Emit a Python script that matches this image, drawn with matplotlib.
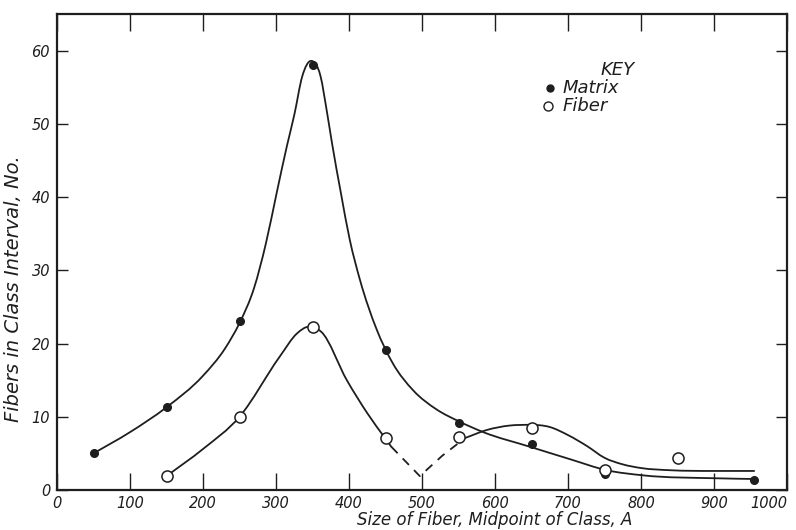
import matplotlib
matplotlib.use("Agg")
import matplotlib.pyplot as plt
from matplotlib.path import Path
from matplotlib.patches import PathPatch

# Measured points
matrix_x = [50, 150, 250, 350, 450, 550, 650, 750, 955]
matrix_y = [5.0, 11.3, 23.1, 58.0, 19.1, 9.1, 6.3, 2.2, 1.4]
fiber_x = [150, 250, 350, 450, 550, 650, 750, 850]
fiber_y = [1.9, 10.0, 22.3, 7.1, 7.2, 8.5, 2.7, 4.4]

# Knots of the hand-drawn fitted curves
matrix_curve_x = [50, 100, 150, 200, 230, 250, 270, 286, 301, 315, 325, 336, 348, 361,
                  370, 377, 389, 401, 415, 438, 460, 488, 520, 550, 584, 648, 703, 753,
                  803, 904, 955]
matrix_curve_y = [5.0, 7.9, 11.3, 15.6, 19.3, 22.8, 27.6, 33.6, 40.6, 47.0, 51.2, 56.5,
                  58.6, 56.5, 51.5, 47.2, 40.5, 34.2, 28.7, 21.9, 17.3, 13.6, 11.0, 9.4,
                  7.9, 5.9, 4.2, 2.7, 2.0, 1.6, 1.5]
fiber_curve1_x = [150, 200, 250, 305, 329, 345, 362, 397, 425, 450, 458]
fiber_curve1_y = [1.9, 5.6, 10.0, 18.2, 21.4, 22.3, 21.6, 15.0, 10.5, 7.0, 5.9]
fiber_dash_x = [458, 497, 528, 559]
fiber_dash_y = [5.9, 1.9, 4.7, 7.1]
fiber_curve2_x = [559, 589, 620, 648, 675, 700, 726, 750, 775, 800, 840, 900, 955]
fiber_curve2_y = [7.1, 8.2, 8.8, 8.9, 8.6, 7.5, 6.0, 4.4, 3.5, 3.0, 2.7, 2.6, 2.6]

x_ticks = [0, 100, 200, 300, 400, 500, 600, 700, 800, 900, 1000]
y_ticks = [0, 10, 20, 30, 40, 50, 60]

ink = "#1e1e1e"
plt.rcParams['font.family'] = ['DejaVu Sans']


def smooth_path(xs, ys):
    """Shape-preserving cubic Bezier path through the knots (drawn by matplotlib)."""
    n = len(xs)
    h = [xs[k + 1] - xs[k] for k in range(n - 1)]
    d = [(ys[k + 1] - ys[k]) / h[k] for k in range(n - 1)]
    m = [d[0]] + [0.0] * (n - 2) + [d[-1]]
    for k in range(1, n - 1):
        if d[k - 1] * d[k] > 0:
            s = (d[k - 1] * h[k] + d[k] * h[k - 1]) / (h[k - 1] + h[k])
            lim = 3 * min(abs(d[k - 1]), abs(d[k]))
            m[k] = max(-lim, min(lim, s))
    verts = [(xs[0], ys[0])]
    codes = [Path.MOVETO]
    for k in range(n - 1):
        verts += [(xs[k] + h[k] / 3, ys[k] + m[k] * h[k] / 3),
                  (xs[k + 1] - h[k] / 3, ys[k + 1] - m[k + 1] * h[k] / 3),
                  (xs[k + 1], ys[k + 1])]
        codes += [Path.CURVE4] * 3
    return Path(verts, codes)


fig = plt.figure(figsize=(7.96, 5.30), dpi=100)
ax = fig.add_axes([57 / 796, 1 - 490 / 530, 730 / 796, 476 / 530])
ax.set_xlim(0, 1000)
ax.set_ylim(0, 65)

for cx, cy in [(matrix_curve_x, matrix_curve_y),
               (fiber_curve1_x, fiber_curve1_y),
               (fiber_curve2_x, fiber_curve2_y)]:
    ax.add_patch(PathPatch(smooth_path(cx, cy), fill=False, edgecolor=ink, lw=1.3,
                           capstyle='round', joinstyle='round', zorder=2))
ax.plot(fiber_dash_x, fiber_dash_y, color=ink, lw=1.3, ls=(0, (5, 4)), zorder=2)

ax.plot(matrix_x, matrix_y, 'o', color=ink, ms=5.5, zorder=3, ls='none')
ax.plot(fiber_x, fiber_y, 'o', mfc='white', mec=ink, mew=1.1, ms=8, zorder=4, ls='none')

for s in ax.spines.values():
    s.set_linewidth(1.6)
    s.set_color(ink)

ax.set_xticks(x_ticks)
ax.set_yticks(y_ticks)
ax.set_xticklabels([str(v) for v in x_ticks], fontstyle='italic', fontsize=10.5, color=ink)
ax.set_yticklabels([str(v) for v in y_ticks], fontstyle='italic', fontsize=10.5, color=ink)
ax.get_xticklabels()[-1].set_horizontalalignment('right')
ax.tick_params(axis='x', direction='in', length=12, width=1.0, pad=4, colors=ink,
               top=True, labeltop=False)
ax.tick_params(axis='y', direction='in', length=8, width=1.0, pad=5, colors=ink,
               right=True, labelright=False)

ax.set_xlabel("Size of Fiber, Midpoint of Class, A", fontstyle='italic', fontsize=12,
              color=ink, va='center')
ax.xaxis.set_label_coords(0.6, -0.062)
ax.set_ylabel("Fibers in Class Interval, No.", fontstyle='italic', fontsize=14, color=ink)
ax.yaxis.set_label_coords(-0.047, 0.424)

# Key
ax.text(768, 57.4, "KEY", fontstyle='italic', fontsize=13, color=ink, ha='center', va='center')
ax.plot([675], [54.9], 'o', color=ink, ms=5, ls='none')
ax.text(692, 54.9, "Matrix", fontstyle='italic', fontsize=13, color=ink, ha='left', va='center')
ax.plot([672], [52.4], 'o', mfc='white', mec=ink, mew=1.0, ms=6.5, ls='none')
ax.text(692, 52.4, "Fiber", fontstyle='italic', fontsize=13, color=ink, ha='left', va='center')

fig.savefig("out.png", dpi=100)
